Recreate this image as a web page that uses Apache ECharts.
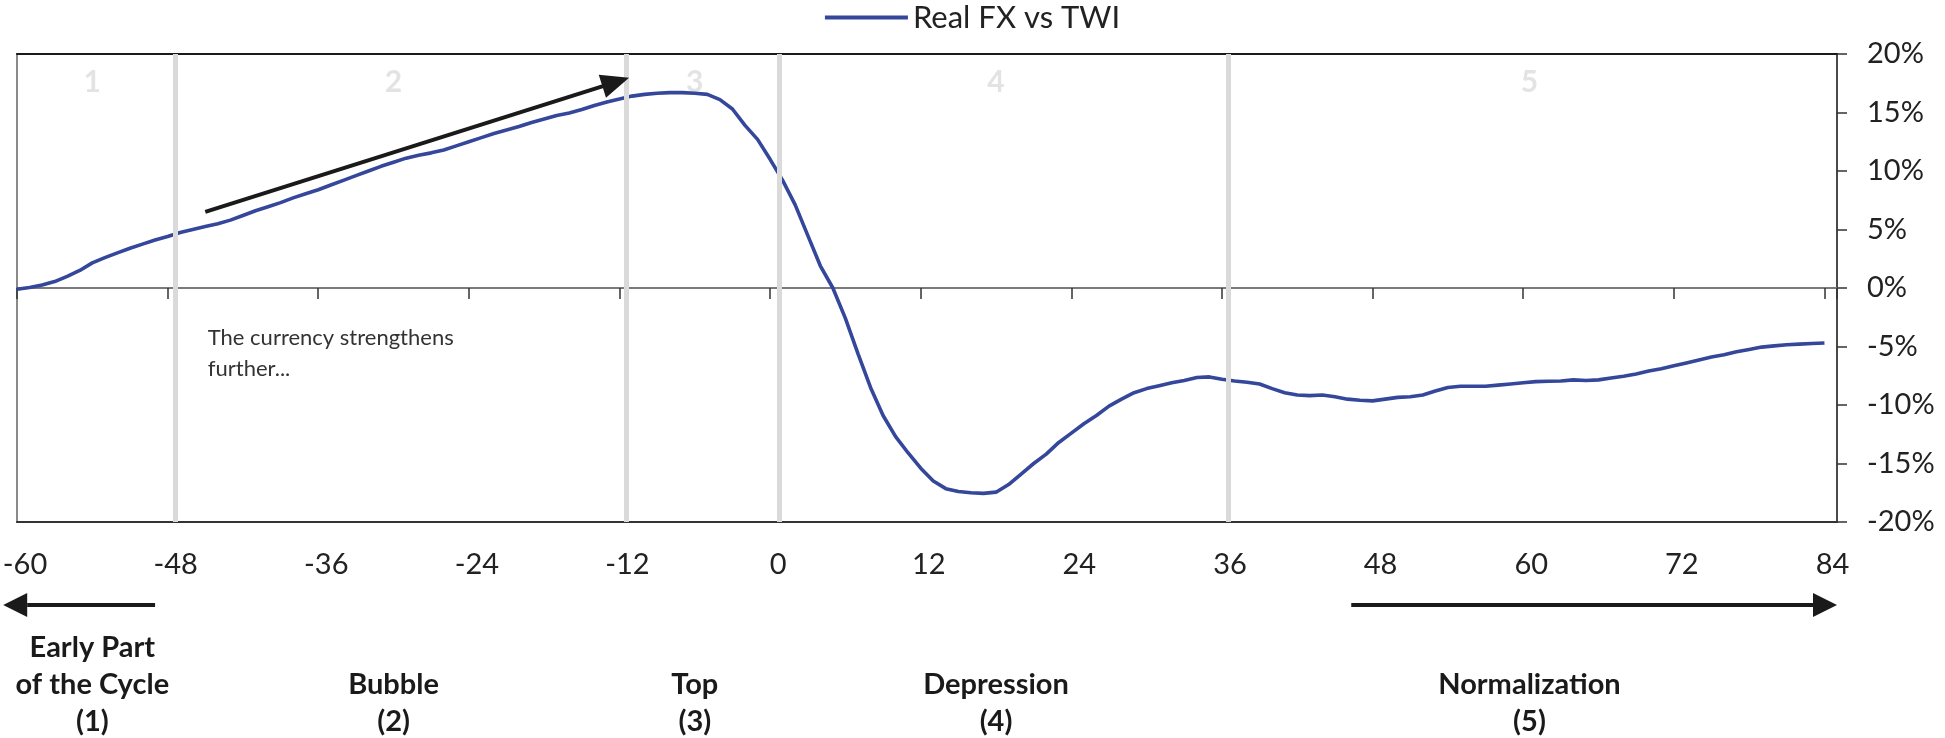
<!DOCTYPE html>
<html>
<head>
<meta charset="utf-8">
<script src="https://cdn.jsdelivr.net/npm/echarts@6/dist/echarts.min.js"></script>
<style>
  html, body { margin: 0; padding: 0; background: #fff; }
  #chart { width: 1945px; height: 738px; }
</style>
</head>
<body>
<div id="chart"></div>
<script>
// === 数据 ===
const months = [];
for (let m = -60; m <= 84; m++) months.push(m);

const realFx = [
  -0.1, 0.05, 0.25, 0.55, 1.0, 1.5, 2.15, 2.6, 3.0, 3.4,         // -60 .. -51
  3.75, 4.1, 4.4, 4.75, 5.0, 5.25, 5.5, 5.8, 6.2, 6.6,            // -50 .. -41
  6.95, 7.3, 7.7, 8.05, 8.4, 8.8, 9.2, 9.6, 10.0, 10.4,           // -40 .. -31
  10.75, 11.1, 11.35, 11.55, 11.8, 12.15, 12.5, 12.85, 13.2, 13.5, // -30 .. -21
  13.8, 14.15, 14.45, 14.75, 14.95, 15.25, 15.6, 15.9, 16.15, 16.4, // -20 .. -11
  16.55, 16.65, 16.7, 16.7, 16.65, 16.55, 16.1, 15.3, 13.9, 12.7,  // -10 .. -1
  11.0, 9.2, 7.1, 4.5, 1.9, 0.0, -2.6, -5.6, -8.5, -10.9,          // 0 .. 9
  -12.7, -14.1, -15.4, -16.5, -17.15, -17.4, -17.5, -17.55, -17.45, -16.8, // 10 .. 19
  -15.9, -15.0, -14.2, -13.2, -12.4, -11.6, -10.9, -10.1, -9.5, -8.95,     // 20 .. 29
  -8.6, -8.35, -8.1, -7.9, -7.65, -7.6, -7.8, -7.95, -8.05, -8.2,          // 30 .. 39
  -8.6, -8.95, -9.15, -9.2, -9.15, -9.3, -9.5, -9.6, -9.65, -9.5,          // 40 .. 49
  -9.35, -9.3, -9.15, -8.8, -8.5, -8.4, -8.4, -8.4, -8.3, -8.2,            // 50 .. 59
  -8.1, -8.0, -7.97, -7.95, -7.85, -7.9, -7.85, -7.7, -7.55, -7.35,        // 60 .. 69
  -7.1, -6.9, -6.65, -6.4, -6.15, -5.9, -5.7, -5.45, -5.25, -5.05,         // 70 .. 79
  -4.95, -4.85, -4.8, -4.75, -4.7                                          // 80 .. 84
];

// 阶段分隔线、阶段编号与名称
const phaseBreaks = [-47.4, -11.5, 0.7, 36.5];
const phaseMids = [-54, -30, -6, 18, 60.5];
const phaseNums = ['1', '2', '3', '4', '5'];
const phaseNames = ['Early Part\nof the Cycle\n(1)', 'Bubble\n(2)', 'Top\n(3)', 'Depression\n(4)', 'Normalization\n(5)'];
const phaseNameLines = [3, 2, 2, 2, 2];

// 坐标轴刻度
const xTicks = [-60, -48, -36, -24, -12, 0, 12, 24, 36, 48, 60, 72, 84];

// 注释
const trendArrow = [[-45, 6.5], [-12.3, 17.6]];
const noteText = 'The currency strengthens\nfurther...';
const notePos = [-44.8, -2.9];
const leftArrow = [-49, -61.1];
const rightArrow = [46.3, 85];

const FONT = 'Lato, "Open Sans", sans-serif';
const LINE_BLUE = '#34479b';

const chart = echarts.init(document.getElementById('chart'));

const option = {
    animation: false,
    legend: {
        top: -3,
        left: 'center',
        data: ['Real FX vs TWI'],
        icon: 'rect',
        itemWidth: 83,
        itemHeight: 4,
        itemGap: 10,
        textStyle: { fontFamily: FONT, fontSize: 31, color: '#222' }
    },
    grid: {
        left: 17, right: 108, top: 54, bottom: 216,
        outerBoundsMode: 'none',
        containLabel: false,
        show: true,
        borderColor: '#8a8a8a',
        borderWidth: 2
    },
    xAxis: [
        {
            // 零线 + 刻度
            type: 'value', min: -60, max: 85, interval: 12,
            position: 'bottom',
            axisLine: { onZero: true, lineStyle: { color: '#7a7a7a', width: 2 } },
            axisTick: { show: true, length: 11, lineStyle: { color: '#333', width: 1.5 } },
            axisLabel: { show: false },
            splitLine: { show: false }
        },
        {
            // 底边 + 标签（原图标签比刻度略偏右）
            type: 'value', min: -60, max: 85, interval: 12,
            position: 'bottom',
            axisLine: { show: true, onZero: false, lineStyle: { color: '#333', width: 2 } },
            axisTick: { show: false },
            axisLabel: {
                margin: 28,
                padding: [0, 0, 0, 16],
                fontFamily: FONT, fontSize: 29, color: '#222',
                showMinLabel: true, showMaxLabel: true,
                customValues: xTicks
            },
            splitLine: { show: false }
        },
        {
            // 顶边
            type: 'value', min: -60, max: 85,
            position: 'top',
            axisLine: { show: true, onZero: false, lineStyle: { color: '#1a1a1a', width: 2 } },
            axisTick: { show: false },
            axisLabel: { show: false },
            splitLine: { show: false }
        }
    ],
    yAxis: {
        type: 'value', min: -20, max: 20, interval: 5,
        position: 'right',
        axisLine: { show: true, onZero: false, lineStyle: { color: '#333', width: 1.5 } },
        axisTick: { show: true, length: 10, lineStyle: { color: '#333', width: 1.5 } },
        axisLabel: {
            margin: 30,
            fontFamily: FONT, fontSize: 29, color: '#222',
            formatter: v => v + '%'
        },
        splitLine: { show: false }
    },
    series: [
        {
            // 阶段分隔线
            name: 'phases',
            type: 'line',
            data: [],
            z: 1,
            silent: true,
            markLine: {
                silent: true,
                symbol: ['none', 'none'],
                label: { show: false },
                lineStyle: { color: '#dadada', width: 5, type: 'solid' },
                data: phaseBreaks.map(x => ({ xAxis: x }))
            }
        },
        {
            // 阶段编号
            name: 'phaseNums',
            type: 'scatter',
            symbolSize: 0,
            silent: true,
            z: 1,
            data: phaseMids.map((x, i) => ({ value: [x, 17.6], name: phaseNums[i] })),
            label: {
                show: true,
                position: 'inside',
                formatter: p => p.name,
                fontFamily: FONT, fontSize: 30, fontWeight: 'bold', color: '#dcdcdc'
            }
        },
        {
            name: 'Real FX vs TWI',
            type: 'line',
            z: 3,
            showSymbol: false,
            smooth: false,
            data: months.map((m, i) => [m, realFx[i]]),
            lineStyle: { color: LINE_BLUE, width: 3.6 },
            itemStyle: { color: LINE_BLUE },
            markLine: {
                silent: true,
                symbol: ['none', 'triangle'],
                symbolSize: [24, 28],
                label: { show: false },
                lineStyle: { color: '#1a1a1a', width: 4, type: 'solid' },
                data: [[{ coord: trendArrow[0] }, { coord: trendArrow[1] }]]
            }
        }
    ]
};

chart.setOption(option);

// === 图外注释：箭头与阶段名称 ===
function px(x, y) {
    return chart.convertToPixel({ xAxisIndex: 0, yAxisIndex: 0 }, [x, y]);
}

function arrow(x0, x1, y) {
    const a = px(x0, 0)[0];
    const b = px(x1, 0)[0];
    const dir = b > a ? 1 : -1;
    const head = 24;
    return [
        { type: 'line', shape: { x1: a, y1: y, x2: b - dir * head, y2: y }, style: { stroke: '#1a1a1a', lineWidth: 4 } },
        { type: 'polygon', shape: { points: [[b, y], [b - dir * head, y - 12], [b - dir * head, y + 12]] }, style: { fill: '#1a1a1a' } }
    ];
}

const graphics = [];
graphics.push(...arrow(leftArrow[0], leftArrow[1], 605));
graphics.push(...arrow(rightArrow[0], rightArrow[1], 605));

phaseMids.forEach((x, i) => {
    const cx = px(x, 0)[0];
    const top = phaseNameLines[i] === 3 ? 629 : 666;
    graphics.push({
        type: 'text',
        x: cx, y: top,
        style: {
            text: phaseNames[i],
            fontFamily: FONT, fontSize: 29, fontWeight: 'bold',
            fill: '#1a1a1a',
            align: 'center', verticalAlign: 'top',
            lineHeight: 37
        }
    });
});

const np = px(notePos[0], notePos[1]);
graphics.push({
    type: 'text',
    x: np[0], y: np[1],
    style: {
        text: noteText,
        fontFamily: FONT, fontSize: 22,
        fill: '#333',
        align: 'left', verticalAlign: 'top',
        lineHeight: 31
    }
});

chart.setOption({ graphic: graphics });

window.addEventListener('resize', () => chart.resize());
</script>
</body>
</html>
